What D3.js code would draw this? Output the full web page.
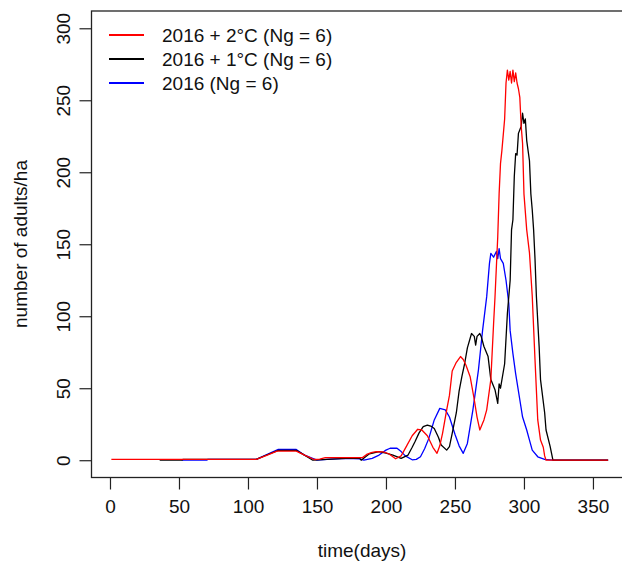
<!DOCTYPE html>
<html>
<head>
<meta charset="utf-8">
<script src="https://cdn.jsdelivr.net/npm/d3@7"></script>
<style>
  body { margin: 0; background: #fff; }
  text { font-family: "Liberation Sans", Arial, sans-serif; }
</style>
</head>
<body>
<div id="chart"></div>
<script>
// values (day of year, adults per ha)
const redDays = [1, 106, 114, 121, 135, 141, 148, 152, 156, 183, 186, 190, 193, 198, 202, 207, 211, 215, 219, 223, 226, 230, 234, 237, 239, 241, 244, 246, 248, 251, 254, 256, 258, 261, 264, 266, 268, 271, 273, 276, 278, 279, 281, 282, 283, 284, 286, 287, 288, 289, 290, 291, 292, 293, 294, 295, 296, 297, 298, 299, 300, 302, 304, 306, 308, 310, 312, 314, 315, 316, 361];
const redVals = [0.6, 0.6, 3.5, 6.3, 6.3, 3.5, 0.5, 0.8, 1.8, 1.8, 4, 5.5, 6, 5.8, 4.5, 1, 3, 10, 17, 21.5, 21, 17, 9, 4.8, 10, 18.7, 35, 45, 62, 68, 72, 70, 66, 58, 42, 30, 21, 28, 35, 56, 95, 113, 155, 185, 206, 215, 237, 262, 271, 264, 270, 262, 271, 263, 269, 262, 258, 252, 232, 220, 185, 160, 144, 114, 70, 28, 14, 9, 3, 0, 0];

const blackDays = [36, 52, 53, 106, 114, 122, 135, 141, 147, 157, 171, 181, 182, 188, 195, 200, 205, 211, 216, 219, 221, 224, 227, 230, 233, 235, 238, 240, 244, 246, 248, 251, 253, 255, 257, 259, 262, 264, 265, 266, 268, 269, 271, 274, 276, 279, 281, 282, 283, 286, 288, 290, 291, 292, 293, 294, 295, 296, 298, 299, 300, 301, 302, 304, 305, 306, 307, 308, 309, 311, 312, 315, 316, 319, 321, 361];
const blackVals = [0, 0, 0.6, 0.6, 3.8, 6.8, 6.8, 3.5, 0, 0.6, 1.3, 1.3, 0, 4.5, 5.9, 5, 3.6, 1.3, 3.6, 9, 12.8, 19, 23.3, 24.4, 23.5, 22, 16, 10.6, 7, 9.4, 18.7, 33, 48, 58, 67, 78, 88, 86, 80, 86, 88, 86, 79, 72, 56, 49, 39.5, 53, 50, 67, 102, 125, 160, 167, 197, 213, 212, 227, 232, 241, 234, 237, 222, 208, 185, 174, 160, 140, 114, 79, 56, 33, 21, 9.4, 0, 0];

const blueDays = [52, 70, 71, 106, 114, 122, 135, 141, 150, 160, 172, 181, 184, 190, 195, 200, 203, 208, 211, 214, 219, 222, 225, 228, 231, 235, 239, 243, 246, 250, 253, 256, 259, 263, 267, 270, 273, 275, 276, 278, 280, 281, 282, 283, 285, 287, 289, 290, 292, 294, 297, 299, 302, 304, 306, 310, 315, 321, 361];
const blueVals = [0, 0, 0.6, 0.6, 4, 7.5, 7.5, 3.5, 0, 0.8, 1.3, 1, 0, 1.3, 3.6, 7, 8.3, 8.3, 6, 3, 0.3, 0.6, 2.4, 8, 15, 28, 36, 35, 30, 18, 10, 4.8, 11.7, 35, 62.6, 90, 113.6, 136.7, 143.7, 141, 145, 140, 147, 140, 136.7, 125, 109, 90, 74, 60, 42, 30, 21, 14, 7, 2.4, 0.6, 0, 0];

const xTicks = [0, 50, 100, 150, 200, 250, 300, 350];
const yTicks = [0, 50, 100, 150, 200, 250, 300];

const legendLabels = ["2016 + 2\u00b0C (Ng = 6)", "2016 + 1\u00b0C (Ng = 6)", "2016 (Ng = 6)"];
const legendColors = ["#ff0000", "#000000", "#0000ff"];

const width = 622;
const height = 563;

const svg = d3.select("#chart").append("svg")
    .attr("width", width)
    .attr("height", height);

// plot region (right edge of the box falls outside the picture)
const x = d3.scaleLinear().domain([-13.4, 375.4]).range([91.5, 628]);
const y = d3.scaleLinear().domain([-12, 312]).range([477.5, 11]);

const line = d3.line()
    .x(d => x(d[0]))
    .y(d => y(d[1]));

function drawSeries(days, vals, color) {
    const pts = days.map((d, i) => [d, vals[i]]);
    svg.append("path")
        .datum(pts)
        .attr("fill", "none")
        .attr("stroke", color)
        .attr("stroke-width", 1.3)
        .attr("stroke-linejoin", "round")
        .attr("d", line);
}

// blue first, red on top
drawSeries(blueDays, blueVals, "#0000ff");
drawSeries(blackDays, blackVals, "#000000");
drawSeries(redDays, redVals, "#ff0000");

// box
svg.append("rect")
    .attr("x", x.range()[0])
    .attr("y", y.range()[1])
    .attr("width", x.range()[1] - x.range()[0])
    .attr("height", y.range()[0] - y.range()[1])
    .attr("fill", "none")
    .attr("stroke", "#222")
    .attr("stroke-width", 1.3);

// x axis
const xAxis = svg.append("g")
    .attr("transform", `translate(0, ${y.range()[0]})`)
    .call(d3.axisBottom(x).tickValues(xTicks).tickSize(12).tickPadding(10).tickSizeOuter(0));
xAxis.select(".domain").remove();
xAxis.selectAll(".tick line").attr("stroke", "#222").attr("stroke-width", 1.2);
xAxis.selectAll(".tick text")
    .attr("fill", "#111")
    .style("font-size", "19px");

// y axis, labels turned like base R
const yAxis = svg.append("g")
    .attr("transform", `translate(${x.range()[0]}, 0)`)
    .call(d3.axisLeft(y).tickValues(yTicks).tickSize(12).tickSizeOuter(0));
yAxis.select(".domain").remove();
yAxis.selectAll(".tick line").attr("stroke", "#222").attr("stroke-width", 1.2);
yAxis.selectAll(".tick text")
    .attr("fill", "#111")
    .attr("text-anchor", "middle")
    .attr("x", 0)
    .attr("dy", "0.35em")
    .attr("transform", "translate(-28.5, 0) rotate(-90)")
    .style("font-size", "19px");

// axis titles
svg.append("text")
    .attr("x", 362)
    .attr("y", 550)
    .attr("dy", "0.35em")
    .attr("text-anchor", "middle")
    .attr("fill", "#111")
    .style("font-size", "19px")
    .text("time(days)");

svg.append("text")
    .attr("transform", "translate(20, 244) rotate(-90)")
    .attr("dy", "0.35em")
    .attr("text-anchor", "middle")
    .attr("fill", "#111")
    .style("font-size", "19px")
    .text("number of adults/ha");

// legend
const legend = svg.append("g");
legendLabels.forEach((label, i) => {
    const ly = 35 + i * 24;
    legend.append("line")
        .attr("x1", 109)
        .attr("x2", 144)
        .attr("y1", ly)
        .attr("y2", ly)
        .attr("stroke", legendColors[i])
        .attr("stroke-width", 2);
    legend.append("text")
        .attr("x", 162)
        .attr("y", ly)
        .attr("dy", "0.35em")
        .attr("fill", "#111")
        .style("font-size", "19px")
        .text(label);
});
</script>
</body>
</html>
